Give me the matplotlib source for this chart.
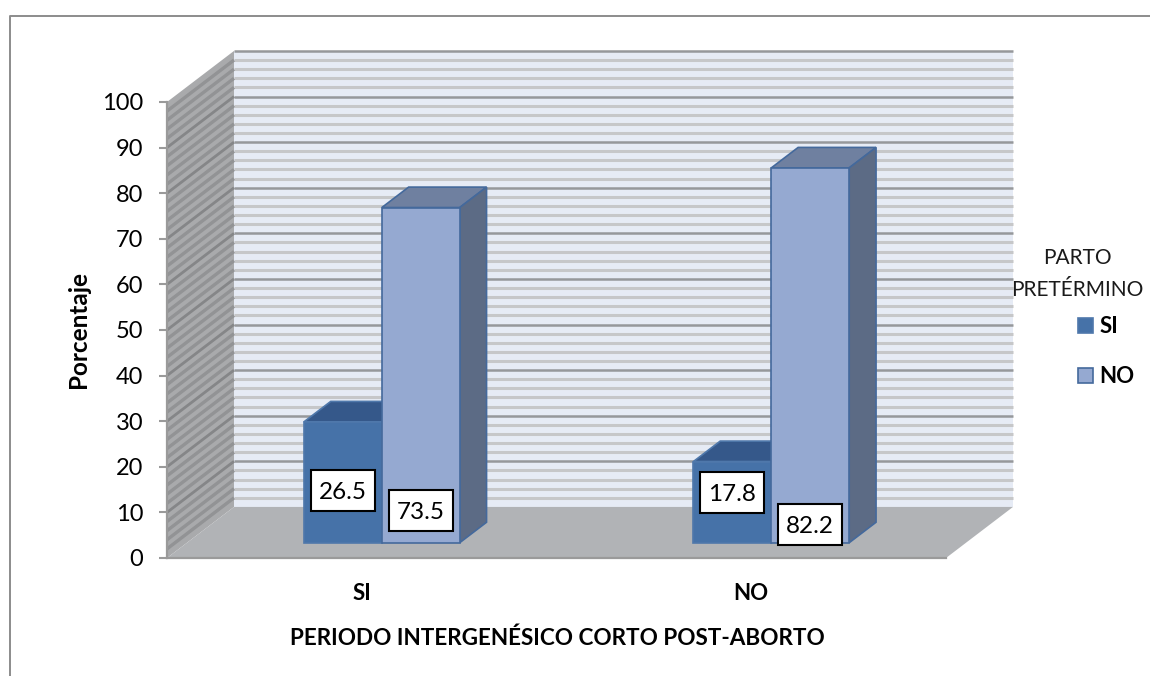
import numpy as np
import matplotlib
matplotlib.use("Agg")
import matplotlib.pyplot as plt
from matplotlib.patches import Polygon, Rectangle, Patch
from matplotlib.lines import Line2D

plt.rcParams['font.family'] = ['Lato', 'DejaVu Sans']

# --- data ---
categories = ['SI', 'NO']
series_names = ['SI', 'NO']
si_values = [26.5, 17.8]
no_values = [73.5, 82.2]
y_ticks = [0, 10, 20, 30, 40, 50, 60, 70, 80, 90, 100]
label_heights_si = [14.8, 14.4]
label_heights_no = [10.4, 7.3]
x_title = 'PERIODO INTERGENÉSICO CORTO POST-ABORTO'
y_title = 'Porcentaje'
legend_title = 'PARTO\nPRETÉRMINO'

# --- style ---
W, H = 1150, 676
DX, DY = 0.172, 11.2        # oblique offset of full depth, in data units
D0, D1 = 0.30, 0.70         # bar depth start/end
BW = 0.2
C_WALL = '#e6ebf5'
C_MINOR = '#c6c7c9'
C_MAJOR = '#96989b'
C_SIDE = '#a9aaac'
C_SIDE_MINOR = '#929395'
C_SIDE_MAJOR = '#858688'
C_FLOOR = '#b1b3b6'
C_EDGE = '#9a9a9a'
DARK = ('#4672a8', '#35588a', '#35588a')
LIGHT = ('#95a9d1', '#6f80a0', '#5c6b85')
EDGE_DARK = '#4f78ab'
EDGE_LIGHT = '#44699c'

fig = plt.figure(figsize=(W / 100, H / 100), dpi=100, facecolor='white')
ax = fig.add_axes([167 / W, (H - 558) / H, 779 / W, 456 / H], facecolor='none')
ax.set_xlim(0, 2)
ax.set_ylim(0, 100)


def P(x, y, d):
    return (x + d * DX, y + d * DY)


def poly(pts, color, edge=None, lw=0, z=1):
    ax.add_patch(Polygon(pts, closed=True, facecolor=color, edgecolor=edge or color,
                         linewidth=lw, clip_on=False, zorder=z))


# back wall
poly([P(0, 0, 1), P(2, 0, 1), P(2, 100, 1), P(0, 100, 1)], C_WALL, z=1)
minor = [v for v in np.arange(2, 100, 2) if v % 10 != 0]
for v in minor:
    ax.plot(*zip(P(0, v, 1), P(2, v, 1)), color=C_MINOR, lw=2.2, clip_on=False, zorder=1.1,
            solid_capstyle='butt')
for v in y_ticks[1:]:
    ax.plot(*zip(P(0, v, 1), P(2, v, 1)), color=C_MAJOR, lw=1.8, clip_on=False, zorder=1.2,
            solid_capstyle='butt')

# side wall
poly([P(0, 0, 0), P(0, 100, 0), P(0, 100, 1), P(0, 0, 1)], C_SIDE, z=1.3)
for v in minor:
    ax.plot(*zip(P(0, v, 0), P(0, v, 1)), color=C_SIDE_MINOR, lw=2.4, clip_on=False, zorder=1.4,
            solid_capstyle='butt')
for v in y_ticks[1:-1]:
    ax.plot(*zip(P(0, v, 0), P(0, v, 1)), color=C_SIDE_MAJOR, lw=2.0, clip_on=False, zorder=1.5,
            solid_capstyle='butt')

# floor
poly([P(0, 0, 0), P(2, 0, 0), P(2, 0, 1), P(0, 0, 1)], C_FLOOR, z=1.6)


# bars
def bar3d(x0, h, cols, edge, z):
    x1 = x0 + BW
    poly([P(x0, h, D0), P(x1, h, D0), P(x1, h, D1), P(x0, h, D1)], cols[1], edge, 1.2, z)
    poly([P(x1, 0, D0), P(x1, 0, D1), P(x1, h, D1), P(x1, h, D0)], cols[2], edge, 1.2, z)
    poly([P(x0, 0, D0), P(x1, 0, D0), P(x1, h, D0), P(x0, h, D0)], cols[0], edge, 1.2, z + 0.1)


centers = np.arange(len(categories)) + 0.5
BOX_W, BOX_H = 0.164, 9.0
for i, c in enumerate(centers):
    bar3d(c - BW, si_values[i], DARK, EDGE_DARK, 2 + i)
    bar3d(c, no_values[i], LIGHT, EDGE_LIGHT, 2.3 + i)

for i, c in enumerate(centers):
    for x0, val, ly in ((c - BW, si_values[i], label_heights_si[i]),
                        (c, no_values[i], label_heights_no[i])):
        cx = x0 + BW / 2 + D0 * DX
        ax.add_patch(Rectangle((cx - BOX_W / 2, ly - BOX_H / 2), BOX_W, BOX_H, facecolor='white',
                               edgecolor='black', linewidth=1.5, clip_on=False, zorder=6))
        ax.text(cx, ly, f'{val:.1f}', ha='center', va='center_baseline', fontsize=17.5,
                color='black', zorder=7)

# axes
for s in ('top', 'right'):
    ax.spines[s].set_visible(False)
for s in ('left', 'bottom'):
    ax.spines[s].set_color(C_EDGE)
    ax.spines[s].set_linewidth(1.6)
    ax.spines[s].set_zorder(1.7)
ax.set_yticks(y_ticks)
ax.set_yticklabels([str(v) for v in y_ticks], fontsize=17)
ax.tick_params(axis='y', length=6, width=1.5, color=C_EDGE, pad=11, labelcolor='black')
ax.set_xticks(centers)
ax.set_xticklabels(categories, fontsize=16, fontweight='bold')
ax.tick_params(axis='x', length=0, pad=18)

fig.text(557 / W, 1 - 638 / H, x_title, ha='center', va='center', fontsize=16.2, fontweight='bold')
fig.text(78 / W, 1 - 330 / H, y_title, ha='center', va='center', rotation=90, fontsize=17.5,
         fontweight='bold')

# legend
fig.text(1077 / W, 1 - 274 / H, legend_title, ha='center', va='center', fontsize=15,
         linespacing=1.78, color='#1a1a1a')
handles = [Patch(facecolor=DARK[0], edgecolor=EDGE_DARK, linewidth=1.2),
           Patch(facecolor=LIGHT[0], edgecolor=EDGE_LIGHT, linewidth=1.2)]
leg = fig.legend(handles, series_names, loc='upper left',
                 bbox_to_anchor=(1078 / W, 1 - 316 / H), borderaxespad=0, borderpad=0,
                 frameon=False, handlelength=0.66, handleheight=0.66, handletextpad=0.3,
                 labelspacing=1.32, prop={'size': 16, 'weight': 'bold'})

# outer frame
fig.add_artist(Line2D([9.5 / W, 9.5 / W, 1], [0, 1 - 15.5 / H, 1 - 15.5 / H],
                      transform=fig.transFigure, color='#8c8c8c', lw=1.4))

fig.savefig('out.png', dpi=100)
